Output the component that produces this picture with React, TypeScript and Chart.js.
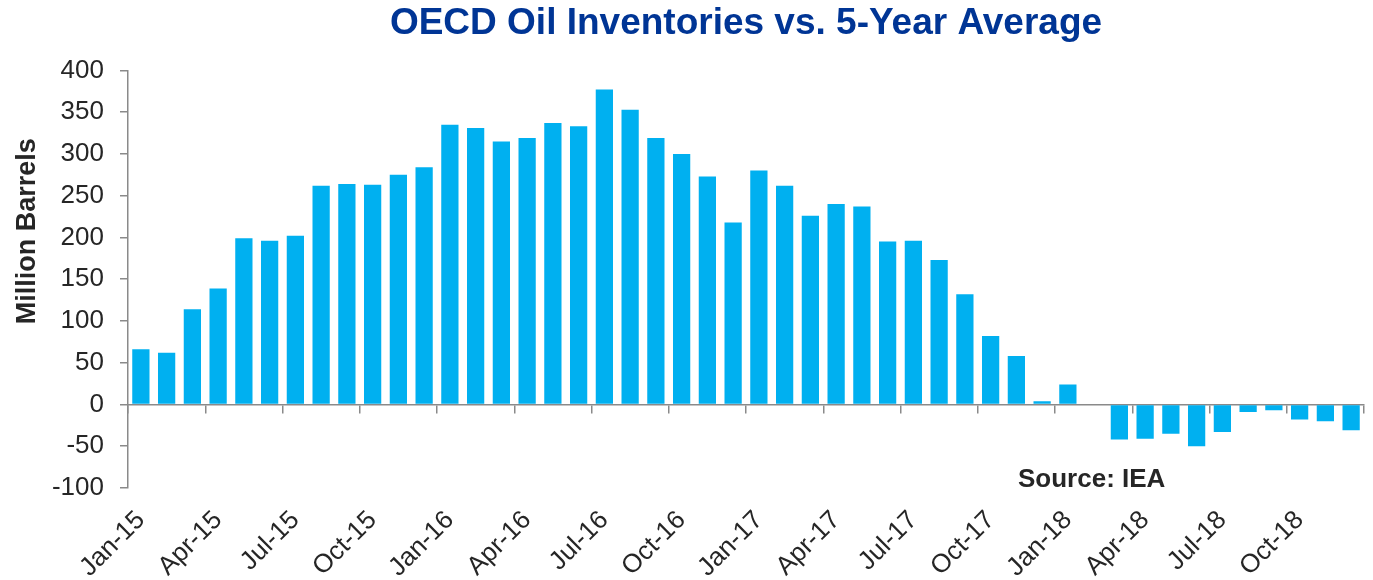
import React, { useEffect, useRef } from 'react';
import { Chart, registerables } from 'chart.js';

Chart.register(...registerables);

const months = [
  'Jan-15', 'Feb-15', 'Mar-15', 'Apr-15', 'May-15', 'Jun-15', 'Jul-15', 'Aug-15', 'Sep-15', 'Oct-15', 'Nov-15', 'Dec-15',
  'Jan-16', 'Feb-16', 'Mar-16', 'Apr-16', 'May-16', 'Jun-16', 'Jul-16', 'Aug-16', 'Sep-16', 'Oct-16', 'Nov-16', 'Dec-16',
  'Jan-17', 'Feb-17', 'Mar-17', 'Apr-17', 'May-17', 'Jun-17', 'Jul-17', 'Aug-17', 'Sep-17', 'Oct-17', 'Nov-17', 'Dec-17',
  'Jan-18', 'Feb-18', 'Mar-18', 'Apr-18', 'May-18', 'Jun-18', 'Jul-18', 'Aug-18', 'Sep-18', 'Oct-18', 'Nov-18', 'Dec-18',
];

const inventoryVs5yr: (number | null)[] = [
  66, 62, 114, 139, 199, 196, 202, 262, 264, 263, 275, 284,
  335, 331, 315, 319, 337, 333, 377, 353, 319, 300, 273, 218,
  280, 262, 226, 240, 237, 195, 196, 173, 132, 82, 58, 4,
  24, null, -42, -41, -35, -50, -33, -9, -7, -18, -20, -31,
];

const yMin = -100;
const yMax = 400;
const yStep = 50;

const chartTitle = 'OECD Oil Inventories vs. 5-Year Average';
const yAxisTitle = 'Million Barrels';
const sourceNote = 'Source: IEA';

const FONT = '"Liberation Sans", Arial, Helvetica, sans-serif';
const TEXT = '#262626';
const AXIS = '#8a8a8a';
const BAR = '#00B0F0';

const extraText = {
  id: 'extraText',
  afterDraw(chart: any) {
    const { ctx, chartArea } = chart;
    ctx.save();
    ctx.fillStyle = TEXT;
    ctx.font = `bold 27px ${FONT}`;
    ctx.translate(28, chartArea.top + (chartArea.bottom - chartArea.top) * 0.385);
    ctx.rotate(-Math.PI / 2);
    ctx.textAlign = 'center';
    ctx.textBaseline = 'middle';
    ctx.fillText(yAxisTitle, 0, 0);
    ctx.restore();

    ctx.save();
    ctx.fillStyle = TEXT;
    ctx.font = `bold 26px ${FONT}`;
    ctx.textAlign = 'left';
    ctx.textBaseline = 'alphabetic';
    ctx.fillText(sourceNote, chartArea.right - 346, chartArea.bottom - 1);
    ctx.restore();
  },
};

export default function App() {
  const ref = useRef<HTMLCanvasElement | null>(null);

  useEffect(() => {
    if (!ref.current) return;
    const chart = new Chart(ref.current, {
      type: 'bar',
      data: {
        labels: months,
        datasets: [
          {
            label: 'OECD inventories vs 5-year average',
            data: inventoryVs5yr,
            backgroundColor: BAR,
            borderWidth: 0,
            categoryPercentage: 1,
            barPercentage: 0.67,
          },
        ],
      },
      options: {
        responsive: false,
        animation: false,
        layout: { padding: { left: 0, right: 9, top: 0, bottom: 0 } },
        plugins: {
          legend: { display: false },
          tooltip: { enabled: false },
          title: {
            display: true,
            text: chartTitle,
            fullSize: false,
            color: '#003595',
            font: { family: FONT, size: 37, weight: 'bold' },
            padding: { top: 2, bottom: 24 },
          },
        },
        scales: {
          x: {
            type: 'category',
            position: { y: 0 } as any,
            z: 1,
            offset: true,
            ticks: { display: false, autoSkip: false },
            grid: {
              offset: true,
              drawOnChartArea: false,
              drawTicks: true,
              tickLength: 8,
              lineWidth: 1.5,
              color: (c: any) => (c.index === undefined || c.index % 3 === 0 ? AXIS : 'rgba(0,0,0,0)'),
            },
            border: { display: true, color: AXIS, width: 1.5 },
          },
          x2: {
            type: 'category',
            axis: 'x',
            position: 'bottom',
            labels: months,
            offset: true,
            grid: { display: false, drawTicks: false },
            border: { display: false },
            ticks: {
              autoSkip: false,
              minRotation: 45,
              maxRotation: 45,
              padding: 17,
              color: TEXT,
              font: { family: FONT, size: 26 },
              callback: (_v: any, i: number) => (i % 3 === 0 ? months[i] : ''),
            },
            afterFit: (s: any) => {
              s.height = 92;
              s.paddingLeft = 0;
              s.paddingRight = 0;
            },
          },
          y: {
            min: yMin,
            max: yMax,
            ticks: {
              stepSize: yStep,
              padding: 16,
              color: TEXT,
              font: { family: FONT, size: 26 },
            },
            grid: {
              drawOnChartArea: false,
              drawTicks: true,
              tickLength: 8,
              lineWidth: 1.5,
              color: AXIS,
            },
            border: { display: true, color: AXIS, width: 1.5 },
            afterFit: (s: any) => {
              s.width = 128;
            },
          },
        },
      },
      plugins: [extraText],
    });
    return () => chart.destroy();
  }, []);

  return (
    <div style={{ position: 'absolute', left: 0, top: 0, width: 1373, height: 580, background: '#ffffff' }}>
      <canvas ref={ref} width={1373} height={580} style={{ display: 'block' }} />
    </div>
  );
}
